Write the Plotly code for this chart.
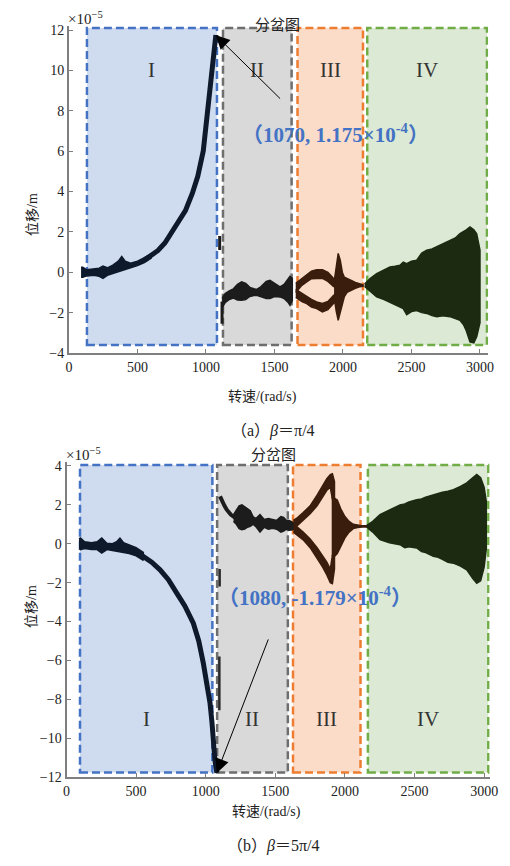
import plotly.graph_objects as go

# ---------------- data (displacement in units of 1e-5 m) ----------------
# (a) beta = pi/4
a_I_env_x  = [88, 100, 130, 180, 220, 248, 280, 320, 360, 385, 410, 450, 500, 550, 600]
a_I_env_up = [0.25, 0.25, 0.12, 0.15, 0.2, 0.3, 0.22, 0.35, 0.55, 0.78, 0.55, 0.45, 0.55, 0.72, 0.92]
a_I_env_lo = [-0.25, -0.25, -0.18, -0.15, -0.2, -0.3, -0.15, -0.08, 0.0, 0.05, 0.12, 0.22, 0.33, 0.48, 0.7]
a_I_curve_x = [550, 600, 650, 700, 750, 800, 850, 900, 940, 980, 1010, 1040, 1060, 1072]
a_I_curve_y = [0.6, 0.82, 1.08, 1.45, 1.95, 2.45, 3.05, 3.9, 4.75, 6.0, 7.9, 9.8, 11.0, 11.75]
a_frag_x = [1117, 1117, None, 1100, 1100]
a_frag_y = [-1.45, -2.55, None, 1.1, 1.8]

a_II_x  = [1118, 1140, 1170, 1200, 1230, 1260, 1290, 1320, 1350, 1370, 1400, 1440, 1467, 1500, 1540, 1570, 1600, 1613, 1630]
a_II_up = [-1.3, -1.05, -0.92, -0.82, -0.6, -0.48, -0.55, -0.75, -0.82, -0.85, -0.72, -0.45, -0.4, -0.55, -0.73, -0.6, -0.3, -0.2, -0.3]
a_II_lo = [-1.75, -1.5, -1.35, -1.28, -1.38, -1.39, -1.35, -1.2, -1.15, -1.14, -1.22, -1.3, -1.3, -1.2, -1.22, -1.3, -1.5, -1.63, -1.4]

a_IIIu_x  = [1655, 1700, 1735, 1770, 1808, 1850, 1890, 1930, 1960]
a_IIIu_up = [-0.55, -0.3, -0.12, 0.05, 0.12, 0.12, 0.0, -0.3, -0.4]
a_IIIu_lo = [-1.0, -0.65, -0.48, -0.32, -0.31, -0.3, -0.45, -0.7, -0.8]
a_IIIl_x  = [1655, 1700, 1735, 1770, 1808, 1850, 1890, 1930, 1960]
a_IIIl_up = [-0.85, -1.05, -1.22, -1.35, -1.47, -1.55, -1.45, -1.15, -1.0]
a_IIIl_lo = [-1.25, -1.45, -1.55, -1.72, -1.8, -1.96, -1.85, -1.55, -1.4]
a_IIIs_x  = [1935, 1950, 1965, 1980, 1995, 2010, 2030, 2060, 2090, 2120, 2146]
a_IIIs_up = [-0.5, 0.3, 0.93, 0.6, 0.0, -0.25, -0.3, -0.4, -0.5, -0.58, -0.62]
a_IIIs_lo = [-1.2, -1.9, -2.38, -2.1, -1.6, -1.2, -1.0, -0.9, -0.8, -0.72, -0.7]

a_IV_x  = [2158, 2200, 2246, 2300, 2343, 2380, 2416, 2440, 2465, 2500, 2538, 2575, 2611, 2650, 2684, 2730, 2781, 2820, 2854, 2880, 2900, 2927, 2955, 2976, 3000]
a_IV_up = [-0.58, -0.3, -0.07, 0.12, 0.26, 0.3, 0.35, 0.5, 0.43, 0.55, 0.6, 0.95, 1.09, 1.15, 1.26, 1.45, 1.58, 1.7, 1.91, 2.0, 2.1, 2.24, 2.1, 1.9, 1.1]
a_IV_lo = [-0.7, -0.95, -1.22, -1.35, -1.47, -1.6, -1.72, -1.8, -2.1, -1.95, -1.9, -2.0, -2.04, -2.15, -2.2, -2.15, -2.2, -2.3, -2.38, -2.6, -2.9, -3.45, -3.5, -3.2, -2.5]

# (b) beta = 5pi/4
b_I_env_x  = [90, 100, 130, 180, 220, 253, 290, 330, 360, 384, 410, 450, 500, 552]
b_I_env_up = [0.25, 0.3, 0.1, 0.05, 0.1, 0.29, 0.02, 0.0, 0.1, 0.29, 0.05, -0.05, -0.2, -0.45]
b_I_env_lo = [-0.25, -0.3, -0.25, -0.3, -0.3, -0.48, -0.3, -0.35, -0.4, -0.43, -0.45, -0.5, -0.62, -0.85]
b_I_curve_x = [540, 552, 612, 672, 732, 792, 850, 911, 950, 983, 1010, 1031, 1045, 1055, 1067, 1080]
b_I_curve_y = [-0.6, -0.65, -0.95, -1.34, -1.85, -2.54, -3.2, -4.09, -5.0, -6.15, -7.2, -8.2, -9.2, -10.3, -11.2, -11.79]
b_frag_x = [1100, 1100, None, 1098, 1098]
b_frag_y = [-1.3, -2.2, None, -5.8, -8.56]

b_II_curve_x = [1103, 1115, 1135, 1151, 1180, 1210]
b_II_curve_y = [2.44, 2.2, 1.95, 1.75, 1.5, 1.35]
b_II_x  = [1200, 1220, 1240, 1260, 1280, 1300, 1320, 1340, 1360, 1390, 1420, 1450, 1480, 1510, 1540, 1560, 1580, 1600, 1625, 1645]
b_II_up = [1.5, 1.75, 1.95, 2.0, 1.9, 1.8, 1.7, 1.4, 1.3, 1.5, 1.25, 1.3, 1.25, 1.2, 1.4, 1.35, 1.2, 1.2, 1.1, 1.0]
b_II_lo = [1.15, 1.0, 0.78, 0.72, 0.75, 0.85, 0.9, 1.0, 0.88, 0.6, 0.85, 0.75, 0.8, 0.75, 0.6, 0.65, 0.75, 0.7, 0.72, 0.8]

b_IIIu_x  = [1630, 1660, 1700, 1750, 1800, 1840, 1870, 1895, 1910, 1925]
b_IIIu_up = [1.2, 1.35, 1.6, 1.95, 2.5, 3.0, 3.35, 3.55, 3.6, 3.2]
b_IIIu_lo = [0.75, 0.95, 1.2, 1.55, 1.95, 2.4, 2.75, 2.9, 2.3, 2.0]
b_IIIl_x  = [1630, 1660, 1700, 1750, 1800, 1840, 1870, 1895, 1910, 1925]
b_IIIl_up = [1.0, 0.85, 0.6, 0.25, -0.2, -0.6, -0.95, -1.3, -0.6, -0.4]
b_IIIl_lo = [0.6, 0.45, 0.2, -0.2, -0.75, -1.2, -1.6, -2.0, -2.05, -1.3]
b_IIIs_x  = [1905, 1925, 1945, 1970, 2000, 2030, 2060, 2090, 2120, 2160]
b_IIIs_up = [2.4, 2.35, 2.25, 1.8, 1.4, 1.15, 1.0, 0.95, 0.93, 0.93]
b_IIIs_lo = [-0.6, -0.65, -0.5, -0.1, 0.3, 0.6, 0.78, 0.84, 0.86, 0.86]

b_IV_x  = [2157, 2200, 2252, 2320, 2396, 2430, 2460, 2516, 2550, 2580, 2635, 2670, 2700, 2740, 2779, 2830, 2875, 2920, 2947, 2975, 3000, 3015]
b_IV_up = [0.95, 1.15, 1.5, 1.75, 2.0, 2.05, 2.15, 2.27, 2.3, 2.4, 2.53, 2.6, 2.65, 2.7, 2.78, 2.95, 3.13, 3.4, 3.56, 3.4, 2.9, 2.2]
b_IV_lo = [0.85, 0.6, 0.21, 0.05, -0.05, -0.2, -0.15, -0.22, -0.4, -0.45, -0.65, -0.7, -0.8, -0.95, -1.0, -1.15, -1.34, -1.8, -2.03, -1.9, -1.2, -0.3]

# regions (x0, x1) and vertical extent
regions_a = [(131, 1080), (1124, 1625), (1668, 2146), (2177, 3051)]
regions_a_y = (-3.6, 12.1)
regions_b = [(97, 1048), (1082, 1590), (1627, 2112), (2165, 3030)]
regions_b_y = (-11.77, 4.05)
region_labels = ["I", "II", "III", "IV"]
label_y_a = 10.0
label_y_b = -9.0

x_ticks = [0, 500, 1000, 1500, 2000, 2500, 3000]
y_ticks_a = [-4, -2, 0, 2, 4, 6, 8, 10, 12]
y_ticks_b = [-12, -10, -8, -6, -4, -2, 0, 2, 4]

peak_a = (1070, 11.75)
peak_b = (1080, -11.79)

# ---------------- styles ----------------
region_fill = ["#cfdcef", "#d9d9d9", "#fbdcc8", "#dce9d4"]
region_line = ["#4472c4", "#6e6e6e", "#ed7d31", "#70ad47"]
col_I = "#0e1a2c"
col_II = "#1c1c1c"
col_III = "#3a1d0c"
col_IV = "#1b2a11"
SERIF = "Liberation Serif"
CJK = "Liberation Serif, Noto Sans CJK SC"

fig = go.Figure()


def band(x, up, lo, color, xa, ya):
    fig.add_trace(go.Scatter(
        x=list(x) + list(x)[::-1], y=list(up) + list(lo)[::-1],
        fill="toself", fillcolor=color, mode="lines",
        line=dict(color=color, width=1.5), xaxis=xa, yaxis=ya,
        hoverinfo="skip", showlegend=False))


def curve(x, y, color, width, xa, ya):
    fig.add_trace(go.Scatter(
        x=x, y=y, mode="lines", line=dict(color=color, width=width),
        xaxis=xa, yaxis=ya, hoverinfo="skip", showlegend=False))


# (a)
band(a_I_env_x, a_I_env_up, a_I_env_lo, col_I, "x", "y")
curve(a_I_curve_x, a_I_curve_y, col_I, 5, "x", "y")
curve(a_frag_x, a_frag_y, col_II, 3, "x", "y")
band(a_II_x, a_II_up, a_II_lo, col_II, "x", "y")
band(a_IIIu_x, a_IIIu_up, a_IIIu_lo, col_III, "x", "y")
band(a_IIIl_x, a_IIIl_up, a_IIIl_lo, col_III, "x", "y")
band(a_IIIs_x, a_IIIs_up, a_IIIs_lo, col_III, "x", "y")
band(a_IV_x, a_IV_up, a_IV_lo, col_IV, "x", "y")

# (b)
band(b_I_env_x, b_I_env_up, b_I_env_lo, col_I, "x2", "y2")
curve(b_I_curve_x, b_I_curve_y, col_I, 5, "x2", "y2")
curve(b_frag_x, b_frag_y, "#2a2a2a", 2.5, "x2", "y2")
curve(b_II_curve_x, b_II_curve_y, col_II, 4, "x2", "y2")
band(b_II_x, b_II_up, b_II_lo, col_II, "x2", "y2")
band(b_IIIu_x, b_IIIu_up, b_IIIu_lo, col_III, "x2", "y2")
band(b_IIIl_x, b_IIIl_up, b_IIIl_lo, col_III, "x2", "y2")
band(b_IIIs_x, b_IIIs_up, b_IIIs_lo, col_III, "x2", "y2")
band(b_IV_x, b_IV_up, b_IV_lo, col_IV, "x2", "y2")

shapes = []
annotations = []
for (regs, (y0, y1), xr, yr, ly) in [(regions_a, regions_a_y, "x", "y", label_y_a),
                                      (regions_b, regions_b_y, "x2", "y2", label_y_b)]:
    for i, (x0, x1) in enumerate(regs):
        shapes.append(dict(type="rect", xref=xr, yref=yr, x0=x0, x1=x1, y0=y0, y1=y1,
                           layer="below", fillcolor=region_fill[i],
                           line=dict(color=region_line[i], width=2.5, dash="8px,4px")))
        annotations.append(dict(xref=xr, yref=yr, x=(x0 + x1) / 2, y=ly, text=region_labels[i],
                                showarrow=False, font=dict(family=SERIF, size=21, color="#333333")))

# peak arrows + texts
annotations.append(dict(xref="x", yref="y", x=peak_a[0], y=peak_a[1], text="", ax=66, ay=65,
                        showarrow=True, arrowhead=2, arrowsize=2.8, arrowwidth=1, arrowcolor="black"))
annotations.append(dict(xref="paper", yref="paper", x=335 / 510, y=1 - 118 / 866,
                        text="<b>（%d, %.3f×10<sup>-4</sup>）</b>" % (peak_a[0], peak_a[1] / 10),
                        showarrow=False, font=dict(family=CJK, size=21, color="#4472c4")))
annotations.append(dict(xref="x2", yref="y2", x=peak_b[0], y=peak_b[1], text="", ax=52, ay=-135,
                        showarrow=True, arrowhead=2, arrowsize=2.8, arrowwidth=1, arrowcolor="black"))
annotations.append(dict(xref="paper", yref="paper", x=315 / 510, y=1 - 612 / 866,
                        text="<b>（%d, %.3f×10<sup>-4</sup>）</b>" % (peak_b[0], peak_b[1] / 10),
                        showarrow=False, font=dict(family=CJK, size=21, color="#4472c4")))

# exponent labels
for xr, yr in [("x domain", "y domain"), ("x2 domain", "y2 domain")]:
    annotations.append(dict(xref=xr, yref=yr, x=0, y=1, xanchor="left", yanchor="bottom",
                            text="×10<sup>−5</sup>", showarrow=False, xshift=-3, yshift=-3,
                            font=dict(family=SERIF, size=15, color="#222")))

# titles / captions / axis titles (positioned in page coords)
def ptext(px, py, text, size, family=CJK, angle=0):
    annotations.append(dict(xref="paper", yref="paper", x=px / 510, y=1 - py / 866, text=text,
                            showarrow=False, textangle=angle,
                            font=dict(family=family, size=size, color="#222")))

ptext(277, 15, "分岔图", 15)
ptext(273, 455, "分岔图", 15)
ptext(262, 397, "转速/(rad/s)", 14)
ptext(266, 822, "转速/(rad/s)", 14)
ptext(23, 191, "位移/m", 14, angle=-90)
ptext(22, 630, "位移/m", 14, angle=-90)
ptext(273, 431, "（a）<i>β</i>＝π/4", 16)
ptext(273, 857, "（b）<i>β</i>＝5π/4", 16)

axis_common = dict(showgrid=False, zeroline=False, showline=True, linecolor="#7f7f7f",
                   linewidth=2, ticks="inside", ticklen=4, tickcolor="#7f7f7f",
                   tickfont=dict(family=SERIF, size=14, color="#222"), mirror=False,
                   automargin=False)

fig.update_layout(
    width=510, height=866, margin=dict(l=0, r=0, t=0, b=0, pad=0), autosize=False,
    paper_bgcolor="white", plot_bgcolor="white", showlegend=False,
    xaxis=dict(domain=[69 / 510, 488.2 / 510], range=[0, 3060], anchor="y",
               tickvals=x_ticks, **axis_common),
    yaxis=dict(domain=[1 - 353 / 866, 1 - 25.96 / 866], range=[-4, 12.2], anchor="x",
               tickvals=y_ticks_a, **axis_common),
    xaxis2=dict(domain=[66.5 / 510, 489.7 / 510], range=[0, 3040], anchor="y2",
                tickvals=x_ticks, **axis_common),
    yaxis2=dict(domain=[1 - 777 / 866, 1 - 462.1 / 866], range=[-12, 4.2], anchor="x2",
                tickvals=y_ticks_b, **axis_common),
    shapes=shapes, annotations=annotations,
)

fig.write_html("out.html", config={"responsive": False, "displayModeBar": False},
               post_script="document.body.style.margin='0';document.body.style.padding='0';"
                           "document.body.style.overflow='hidden';")
